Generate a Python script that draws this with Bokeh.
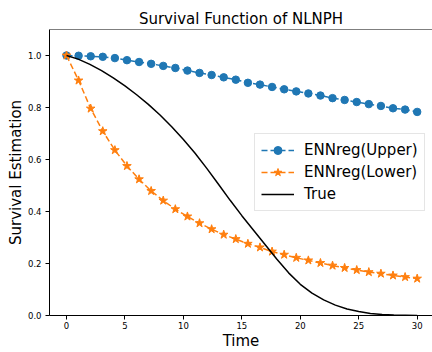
from bokeh.plotting import figure
from bokeh.models import Range1d, FixedTicker, PrintfTickFormatter, Legend, LegendItem, Span
from bokeh.embed import file_html
from bokeh.resources import INLINE

# ---- data ----
time_grid = [0.0, 1.034, 2.069, 3.103, 4.138, 5.172, 6.207, 7.241, 8.276, 9.310,
             10.345, 11.379, 12.414, 13.448, 14.483, 15.517, 16.552, 17.586, 18.621, 19.655,
             20.690, 21.724, 22.759, 23.793, 24.828, 25.862, 26.897, 27.931, 28.966, 30.0]

ennreg_upper = [1.000, 0.999, 0.997, 0.995, 0.990, 0.982, 0.975, 0.968, 0.960, 0.952,
                0.942, 0.933, 0.925, 0.916, 0.907, 0.895, 0.888, 0.879, 0.870, 0.862,
                0.854, 0.846, 0.836, 0.829, 0.821, 0.813, 0.806, 0.797, 0.792, 0.783]

ennreg_lower = [1.000, 0.904, 0.796, 0.709, 0.636, 0.575, 0.524, 0.479, 0.442, 0.409,
                0.381, 0.355, 0.332, 0.311, 0.294, 0.276, 0.262, 0.246, 0.234, 0.222,
                0.212, 0.202, 0.192, 0.183, 0.175, 0.167, 0.161, 0.154, 0.148, 0.142]

true_time = [0, 1, 2, 3, 4, 5, 6, 7, 8, 9, 10, 11, 12, 13, 14, 15, 16, 17, 18, 19,
             20, 21, 22, 23, 24, 25, 26, 27, 28, 29, 30]
true_surv = [1.000, 0.986, 0.966, 0.942, 0.914, 0.883, 0.849, 0.812, 0.771, 0.726,
             0.677, 0.624, 0.566, 0.505, 0.443, 0.384, 0.328, 0.272, 0.216, 0.164,
             0.120, 0.086, 0.060, 0.040, 0.025, 0.015, 0.008, 0.004, 0.002, 0.001, 0.000]

x_ticks = [0, 5, 10, 15, 20, 25, 30]
y_ticks = [0.0, 0.2, 0.4, 0.6, 0.8, 1.0]

labels = ["ENNreg(Upper)", "ENNreg(Lower)", "True"]
FONT = "DejaVu Sans"

p = figure(width=432, height=352, output_backend="svg", toolbar_location=None,
           x_range=Range1d(-1.455, 31.31), y_range=Range1d(0, 1.1),
           min_border_left=49, min_border_right=0, min_border_top=29, min_border_bottom=36,
           title="Survival Function of NLNPH")

p.title.text_font = FONT
p.title.text_font_size = "15px"
p.title.text_font_style = "normal"
p.title.align = "center"
p.title.standoff = 4
p.title.text_color = "black"

p.grid.visible = False
p.outline_line_color = None
p.background_fill_color = "white"
p.border_fill_color = "white"

for ax in [p.xaxis[0], p.yaxis[0]]:
    ax.axis_line_color = "black"
    ax.axis_line_width = 1
    ax.major_tick_line_color = "black"
    ax.major_tick_in = 0
    ax.major_tick_out = 4
    ax.minor_tick_line_color = None
    ax.major_label_text_font = FONT
    ax.major_label_text_font_size = "8.5px"
    ax.major_label_text_color = "black"
    ax.axis_label_text_font = FONT
    ax.axis_label_text_font_size = "15px"
    ax.axis_label_text_font_style = "normal"
    ax.axis_label_text_color = "black"

p.xaxis.ticker = FixedTicker(ticks=x_ticks)
p.yaxis.ticker = FixedTicker(ticks=y_ticks)
p.yaxis.formatter = PrintfTickFormatter(format="%.1f")
p.xaxis.axis_label = "Time"
p.yaxis.axis_label = "Survival Estimation"
p.xaxis.major_label_standoff = 2
p.xaxis.axis_label_standoff = 0
p.yaxis.major_label_standoff = 4
p.yaxis.axis_label_standoff = 0

# top spine
p.add_layout(Span(location=1.1, dimension="width", line_color="black", line_width=1))

blue = "#1f77b4"
orange = "#ff7f0e"

l1 = p.line(time_grid, ennreg_upper, line_color=blue, line_width=1.5, line_dash="6 3")
s1 = p.scatter(time_grid, ennreg_upper, marker="circle", size=7.5,
               fill_color=blue, line_color=blue)
l2 = p.line(time_grid, ennreg_lower, line_color=orange, line_width=1.5, line_dash="6 3")
s2 = p.scatter(time_grid, ennreg_lower, marker="star", size=9,
               fill_color=orange, line_color=orange)
l3 = p.line(true_time, true_surv, line_color="black", line_width=1.5)

legend = Legend(items=[LegendItem(label=labels[0], renderers=[l1, s1]),
                       LegendItem(label=labels[1], renderers=[l2, s2]),
                       LegendItem(label=labels[2], renderers=[l3])],
                location=(205, 104))
legend.label_text_font = FONT
legend.label_text_font_size = "15px"
legend.label_text_color = "black"
legend.glyph_width = 33
legend.glyph_height = 20
legend.label_height = 20
legend.label_standoff = 10
legend.spacing = 2
legend.padding = 6
legend.margin = 0
legend.border_line_color = "#cccccc"
legend.border_line_width = 1
legend.background_fill_alpha = 0.8
p.add_layout(legend)

open("out.html", "w").write(file_html(p, INLINE))
